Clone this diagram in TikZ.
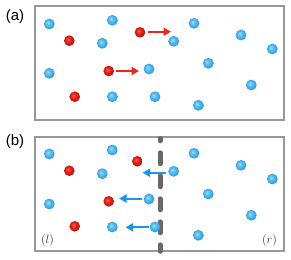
\documentclass[tikz,border=0pt]{standalone}
\usepackage{fontspec}
\newfontfamily\labfont{Liberation Sans}
\usetikzlibrary{arrows.meta}
\definecolor{bhi}{RGB}{185,232,252}
\definecolor{bmid}{RGB}{78,184,238}
\definecolor{bedge}{RGB}{40,140,210}
\definecolor{rhi}{RGB}{255,120,95}
\definecolor{rmid}{RGB}{226,32,22}
\definecolor{redge}{RGB}{165,12,8}
\definecolor{framec}{RGB}{152,152,152}
\definecolor{wallc}{RGB}{108,103,98}
\definecolor{rarrow}{RGB}{232,40,25}
\definecolor{barrow}{RGB}{25,150,235}
\pgfdeclareradialshading{bballsh}{\pgfpoint{-7bp}{7bp}}{color(0bp)=(bhi); color(5bp)=(bhi!40!bmid); color(14bp)=(bmid); color(30bp)=(bedge); color(50bp)=(bedge)}
\pgfdeclareradialshading{rballsh}{\pgfpoint{-7bp}{7bp}}{color(0bp)=(rhi); color(5bp)=(rhi!40!rmid); color(14bp)=(rmid); color(30bp)=(redge); color(50bp)=(redge)}
\tikzset{
  bb/.style={circle, inner sep=0pt, minimum size=10.8pt, shading=bballsh},
  rb/.style={circle, inner sep=0pt, minimum size=10.6pt, shading=rballsh},
  boxframe/.style={draw=framec, line width=2pt},
  redarr/.style={draw=rarrow, line width=2pt, -{Triangle[length=7.5pt,width=8pt]}},
  bluearr/.style={draw=barrow, line width=2pt, -{Triangle[length=7.5pt,width=8pt]}},
  wallline/.style={draw=wallc, line width=5pt, line cap=round, dash pattern=on 11pt off 12pt, dash phase=8.7pt},
  plabel/.style={font=\labfont\fontsize{15}{17}\selectfont, inner sep=0pt},
  slabel/.style={font=\fontsize{11.5}{13}\selectfont, inner sep=0pt, text=black!80}
}
\begin{document}
\begin{tikzpicture}[x=1pt,y=-1pt]
\useasboundingbox (0,0) rectangle (291,259);
% panel (a)
\node[plabel] (la) at (15,17) {(a)};
\node[boxframe, rectangle, minimum width=249.6pt, minimum height=114.6pt, inner sep=0pt] (fa) at (159.5,63) {};
\foreach \n/\x/\y in {a1/49.3/24, a2/112.3/20.3, a3/102.3/43.3, a4/194/23.3, a5/173.7/41.3, a6/241/35, a7/272.3/49, a8/49.3/73.3, a9/149/69, a10/208.3/63.3, a11/251.3/85, a12/112.3/96.7, a13/155/96.7, a14/198.3/105.3}
  \node[bb] (\n) at (\x,\y) {};
\foreach \n/\x/\y in {ra1/69.3/40.7, ra2/140/32.3, ra3/108.7/71, ra4/74.7/96.7}
  \node[rb] (\n) at (\x,\y) {};
\coordinate (ta1) at (148.3,31.7);
\coordinate (ha1) at (171,31.7);
\coordinate (ta2) at (116,71);
\coordinate (ha2) at (139,71);
\draw[redarr] (ta1) -- (ha1);
\draw[redarr] (ta2) -- (ha2);
% panel (b)
\node[plabel] (lb) at (15,142) {(b)};
\node[boxframe, rectangle, minimum width=249.6pt, minimum height=114.3pt, inner sep=0pt] (fb) at (159.5,194.15) {};
\coordinate (wtop) at (160,138.5);
\coordinate (wbot) at (160,251.3);
\draw[wallline] (wtop) -- (wbot);
\coordinate (tb1) at (165.5,172.7);
\coordinate (hb1) at (142.5,172.7);
\coordinate (tb2) at (142,198.5);
\coordinate (hb2) at (119,198.5);
\coordinate (tb3) at (148.5,227.3);
\coordinate (hb3) at (125.5,227.3);
\draw[bluearr] (tb1) -- (hb1);
\draw[bluearr] (tb2) -- (hb2);
\draw[bluearr] (tb3) -- (hb3);
\foreach \n/\x/\y in {b1/49.3/154, b2/112.3/150, b3/102.3/173.7, b4/194/153.3, b5/173.7/171.3, b6/241/165.3, b7/272.3/179, b8/49.3/204, b9/149/199, b10/208.3/194, b11/251.3/215.3, b12/112.3/227, b13/155/227, b14/198.3/235.3}
  \node[bb] (\n) at (\x,\y) {};
\foreach \n/\x/\y in {rb1/69.3/170.7, rb2/137.3/161.3, rb3/108.7/201.3, rb4/74.7/226.3}
  \node[rb] (\n) at (\x,\y) {};
\node[slabel] (ll) at (47.5,240) {$(l)$};
\node[slabel] (lr) at (269.5,240) {$(r)$};
\end{tikzpicture}
\end{document}
